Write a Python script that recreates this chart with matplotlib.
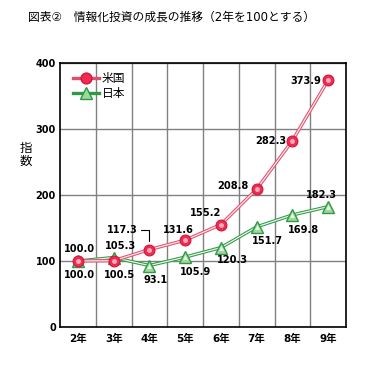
import matplotlib
matplotlib.use("Agg")
from matplotlib import pyplot as plt
from matplotlib.ticker import FixedLocator

# fonts: digits in DejaVu, kanji fall back to Noto CJK
plt.rcParams["font.family"] = ["DejaVu Sans", "Noto Sans CJK JP"]

years = ["2年", "3年", "4年", "5年", "6年", "7年", "8年", "9年"]
usa = [100.0, 100.5, 117.3, 131.6, 155.2, 208.8, 282.3, 373.9]
japan = [100.0, 105.3, 93.1, 105.9, 120.3, 151.7, 169.8, 182.3]
y_ticks = [0, 100, 200, 300, 400]

# label offsets in pixels (dx, dy) from each point
usa_offsets = [(2, 12), (6, -14), (-27, 20), (-7, 10), (-15, 12), (-24, 3), (-22, 0), (-22, -1)]
japan_offsets = [(2, -14), (7, 12), (6, -14), (10, -15), (12, -12), (11, -14), (11, -15), (-7, 12)]

red_line = "#e0506e"
red_face = "#f02a50"
green_line = "#2f9a45"
green_face = "#9fd89f"

fig = plt.figure(figsize=(3.67, 3.65), dpi=100)
ax = fig.add_axes([60 / 367, 1 - 327 / 365, 286 / 367, 264 / 365])

x = list(range(len(years)))

# double lines: colored outer + pale inner
ax.plot(x, usa, color=red_line, lw=2.4, zorder=3, solid_capstyle="butt")
ax.plot(x, usa, color="#ffe4ea", lw=0.9, zorder=3.1)
ax.plot(x, japan, color=green_line, lw=2.4, zorder=2, solid_capstyle="butt")
ax.plot(x, japan, color="#e6f6e6", lw=0.9, zorder=2.1)

ax.plot(x, japan, ls="none", marker="^", ms=8.5, mfc=green_face, mec=green_line, mew=1.0, zorder=4)
ax.plot(x, japan, ls="none", marker="^", ms=3.5, mfc="#eafaea", mec="none", zorder=4.1)
ax.plot(x, usa, ls="none", marker="o", ms=7.8, mfc=red_face, mec="#d0183a", mew=0.8, zorder=5)
ax.plot(x, usa, ls="none", marker="o", ms=3.6, mfc="#ffa8b8", mec="none", zorder=5.1)

lab_kw = dict(textcoords="offset pixels", ha="center", va="center",
              fontsize=7.1, fontweight="bold", zorder=6)
for i, v in enumerate(usa):
    dx, dy = usa_offsets[i]
    if i == 2:
        ax.annotate(f"{v:.1f}", xy=(i, v), xytext=(dx, dy),
                    arrowprops=dict(arrowstyle="-", color="black", lw=0.8,
                                    connectionstyle="angle,angleA=0,angleB=90,rad=0",
                                    shrinkA=0, shrinkB=6),
                    **lab_kw)
    else:
        ax.annotate(f"{v:.1f}", xy=(i, v), xytext=(dx, dy), **lab_kw)
for i, v in enumerate(japan):
    dx, dy = japan_offsets[i]
    ax.annotate(f"{v:.1f}", xy=(i, v), xytext=(dx, dy), **lab_kw)

# axes / grid
ax.set_xlim(-0.5, len(years) - 0.5)
ax.set_ylim(0, 400)
ax.set_yticks(y_ticks)
ax.set_yticklabels([str(t) for t in y_ticks], fontsize=7, fontweight="bold")
ax.set_xticks(x)
ax.set_xticklabels(years, fontsize=7.5, fontweight="bold")
ax.xaxis.set_minor_locator(FixedLocator([i + 0.5 for i in x[:-1]]))
ax.tick_params(axis="both", which="both", length=0)
ax.tick_params(axis="y", pad=3)
ax.tick_params(axis="x", pad=5)
ax.grid(True, which="minor", axis="x", color="#808080", lw=1)
ax.grid(True, which="major", axis="y", color="#808080", lw=1)
ax.set_axisbelow(True)
for s in ax.spines.values():
    s.set_color("black")
    s.set_linewidth(1.2)

# legend
h1, = ax.plot([], [], color=red_line, lw=2.4, marker="o", ms=7.8, mfc=red_face, mec="#d0183a")
h2, = ax.plot([], [], color=green_line, lw=2.4, marker="^", ms=8.5, mfc=green_face, mec=green_line)
ax.legend([h1, h2], ["米国", "日本"], loc="upper left", bbox_to_anchor=(0.005, 1.01),
          frameon=False, fontsize=8.5, handlelength=2.2, handletextpad=0.2,
          labelspacing=0.15, borderaxespad=0.6)

fig.text(26 / 367, 1 - 155 / 365, "指\n数", fontsize=9, ha="center", va="center",
         linespacing=1.0)
fig.text(28 / 367, 1 - 17 / 365, "図表②　情報化投資の成長の推移（2年を100とする）",
         fontsize=8.5, ha="left", va="center")

fig.savefig("out.png", dpi=100)
